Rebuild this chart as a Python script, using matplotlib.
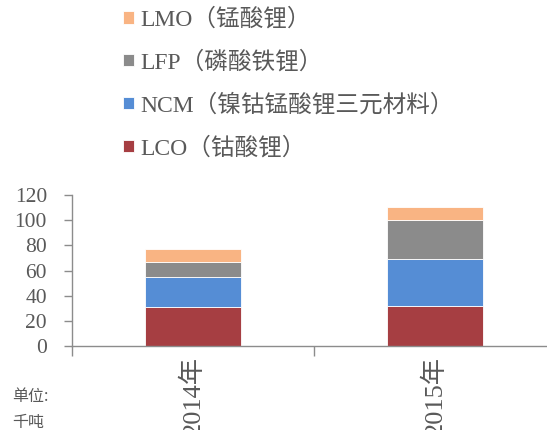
import matplotlib
matplotlib.use("Agg")
import matplotlib.pyplot as plt
import numpy as np

years = ["2014年", "2015年"]
lco = [31.0, 32.0]
ncm = [23.7, 37.0]
lfp = [12.0, 31.6]
lmo = [10.3, 10.1]

series = [
    ("LCO（钴酸锂）", lco, "#A63E42"),
    ("NCM（镍钴锰酸锂三元材料）", ncm, "#558DD5"),
    ("LFP（磷酸铁锂）", lfp, "#8B8B8B"),
    ("LMO（锰酸锂）", lmo, "#F9B483"),
]

serif = ["Liberation Serif", "Noto Sans CJK SC"]
text_color = "#595959"
axis_color = "#8C8C8C"

fig = plt.figure(figsize=(5.47, 4.30), dpi=100)
ax = fig.add_axes([72 / 547, 84.3 / 430, 484 / 547, 150.4 / 430])

x = np.arange(len(years))
bottom = np.zeros(len(years))
handles = []
for name, vals, color in series:
    b = ax.bar(x, vals, width=0.4, bottom=bottom, color=color,
               edgecolor="white", linewidth=0.6, label=name)
    handles.append(b)
    bottom += np.array(vals)

ax.set_xlim(-0.5, 1.5)
ax.set_ylim(0, 120)
ax.set_yticks(range(0, 121, 20))

for s in ("top", "right"):
    ax.spines[s].set_visible(False)
for s in ("left", "bottom"):
    ax.spines[s].set_color(axis_color)
    ax.spines[s].set_linewidth(1.0)

ax.tick_params(axis="y", length=6, width=1.0, color=axis_color, pad=12,
               labelcolor=text_color, labelsize=15.5)
for lab in ax.get_yticklabels():
    lab.set_family(serif)

# category labels without marks, boundary marks as minor ticks
ax.set_xticks(x)
ax.set_xticklabels(years, rotation=90, family=serif, fontsize=19,
                   color=text_color, va="top")
ax.tick_params(axis="x", which="major", length=0, pad=7)
ax.set_xticks([-0.5, 0.5, 1.5], minor=True)
ax.tick_params(axis="x", which="minor", length=7, width=1.0, color=axis_color)

leg = fig.legend(handles[::-1], [s[0] for s in series][::-1],
                 loc="upper left", bbox_to_anchor=(123 / 547, 1 - 8 / 430),
                 frameon=False, prop={"family": serif, "size": 17},
                 handlelength=0.45, handleheight=0.45, handletextpad=0.3,
                 labelspacing=0.86, borderaxespad=0, borderpad=0)
for t in leg.get_texts():
    t.set_color(text_color)

fig.text(12 / 547, 1 - 396 / 430, "单位:", family=["Noto Sans CJK SC"],
         fontsize=11.5, color=text_color, va="center")
fig.text(12 / 547, 1 - 422 / 430, "千吨", family=["Noto Sans CJK SC"],
         fontsize=11.5, color=text_color, va="center")

fig.savefig("out.png", dpi=100)
